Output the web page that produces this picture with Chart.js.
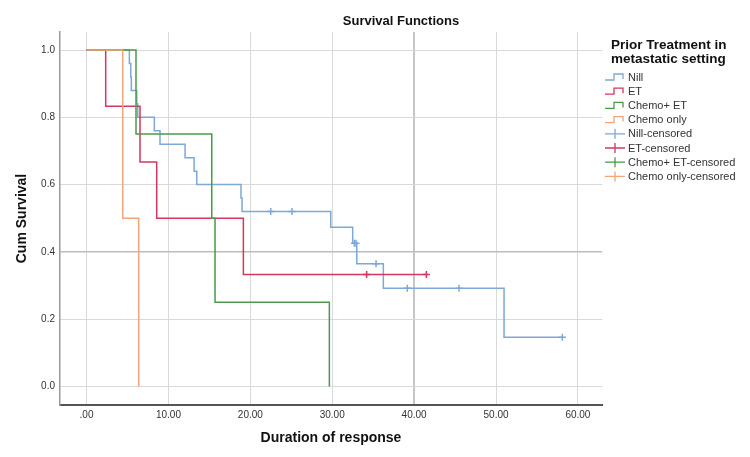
<!DOCTYPE html>
<html><head><meta charset="utf-8">
<script src="https://cdn.jsdelivr.net/npm/chart.js@4.4.0/dist/chart.umd.min.js"></script>
<style>html,body{margin:0;padding:0;background:#fff}#wrap{width:750px;height:457px;position:relative}</style>
</head><body><div id="wrap"><canvas id="c" width="750" height="457"></canvas></div>
<script>
// ---- data ----
const groupNames = ['Nill', 'ET', 'Chemo+ ET', 'Chemo only'];
const censorNames = ['Nill-censored', 'ET-censored', 'Chemo+ ET-censored', 'Chemo only-censored'];
const groupColors = ['#7ea8d8', '#d2385f', '#4a9a4a', '#f2a47a'];

const nillTimes = [0, 5.23, 5.40, 5.47, 6.13, 6.25, 8.28, 8.97, 12.03, 13.13, 13.46, 18.86, 18.99, 29.82, 32.50, 33.00, 36.24, 50.98, 58.1];
const nillSurv  = [1, 0.96, 0.92, 0.88, 0.84, 0.80, 0.76, 0.72, 0.68, 0.64, 0.60, 0.56, 0.52, 0.473, 0.426, 0.365, 0.292, 0.146, 0.146];
const nillCensorTimes = [22.49, 25.09, 32.7, 32.9, 35.35, 39.17, 45.48, 58.1];
const nillCensorSurv  = [0.52, 0.52, 0.426, 0.426, 0.365, 0.292, 0.292, 0.146];

const etTimes = [0, 2.34, 6.53, 8.57, 19.15, 41.5];
const etSurv  = [1, 0.833, 0.667, 0.5, 0.333, 0.333];
const etCensorTimes = [34.2, 41.5];
const etCensorSurv  = [0.333, 0.333];

const chemoEtTimes = [0, 6.04, 15.29, 15.69, 29.65];
const chemoEtSurv  = [1, 0.75, 0.5, 0.25, 0];
const chemoEtCensorTimes = [];
const chemoEtCensorSurv  = [];

const chemoTimes = [0, 4.42, 6.37];
const chemoSurv  = [1, 0.5, 0];
const chemoCensorTimes = [];
const chemoCensorSurv  = [];

const xTicks = [0, 10, 20, 30, 40, 50, 60];
const yTicks = [0, 0.2, 0.4, 0.6, 0.8, 1.0];

// ---- build datasets ----
const pts = (t, s) => t.map((v, i) => ({x: v, y: s[i]}));
const curves = [pts(nillTimes, nillSurv), pts(etTimes, etSurv), pts(chemoEtTimes, chemoEtSurv), pts(chemoTimes, chemoSurv)];
const censors = [pts(nillCensorTimes, nillCensorSurv), pts(etCensorTimes, etCensorSurv), pts(chemoEtCensorTimes, chemoEtCensorSurv), pts(chemoCensorTimes, chemoCensorSurv)];

const datasets = [];
curves.forEach((d, i) => datasets.push({
  label: groupNames[i], data: d, stepped: true, borderColor: groupColors[i], borderWidth: 1.5,
  pointRadius: 0, fill: false, tension: 0, order: 10 - i
}));
censors.forEach((d, i) => datasets.push({
  label: censorNames[i], data: d, showLine: false, pointStyle: 'cross', pointRadius: 3.5,
  borderColor: groupColors[i], borderWidth: 1.5, pointBorderWidth: 1.5, order: 0
}));

const FONT = '"Liberation Sans", Arial, sans-serif';

const decor = {
  id: 'decor',
  afterDraw(chart) {
    const ctx = chart.ctx;
    ctx.save();
    ctx.fillStyle = '#111';
    ctx.textBaseline = 'middle';
    ctx.textAlign = 'center';
    ctx.font = 'bold 13px ' + FONT;
    ctx.fillText('Survival Functions', 401, 21);
    // legend
    ctx.textAlign = 'left';
    ctx.font = 'bold 13.5px ' + FONT;
    ctx.fillText('Prior Treatment in', 611, 45);
    ctx.fillText('metastatic setting', 611, 59);
    ctx.font = '11px ' + FONT;
    const labels = groupNames.concat(censorNames);
    labels.forEach((lab, i) => {
      const y = 77 + i * 14.2;
      const col = groupColors[i % 4];
      ctx.strokeStyle = col;
      ctx.lineWidth = 1.3;
      ctx.beginPath();
      if (i < 4) {
        ctx.moveTo(605, y + 3); ctx.lineTo(614, y + 3); ctx.lineTo(614, y - 3);
        ctx.lineTo(623, y - 3); ctx.lineTo(623, y + 2);
      } else {
        ctx.moveTo(605, y); ctx.lineTo(625, y);
        ctx.moveTo(615, y - 5); ctx.lineTo(615, y + 5);
      }
      ctx.stroke();
      ctx.fillStyle = '#333';
      ctx.fillText(lab, 628, y + 0.5);
    });
    ctx.restore();
  }
};

new Chart(document.getElementById('c'), {
  type: 'line',
  data: {datasets},
  options: {
    responsive: false, animation: false, devicePixelRatio: 1, events: [],
    layout: {padding: {left: 0, top: 32, right: 148, bottom: 0}},
    plugins: {legend: {display: false}, tooltip: {enabled: false}, title: {display: false}},
    scales: {
      x: {
        type: 'linear', min: -3.24, max: 62.94,
        afterBuildTicks: s => { s.ticks = xTicks.map(v => ({value: v})); },
        afterFit: s => { s.height = 52; },
        ticks: {callback: v => v === 0 ? '.00' : Number(v).toFixed(2), font: {size: 10, family: FONT}, color: '#333', padding: 4, maxRotation: 0, autoSkip: false},
        grid: {drawTicks: false, color: c => (c.tick && c.tick.value === 40) ? '#c6c6c6' : '#d9d9d9', lineWidth: c => (c.tick && c.tick.value === 40) ? 2 : 1},
        border: {color: '#555', width: 2},
        title: {display: true, text: 'Duration of response', color: '#111', font: {size: 14, weight: 'bold', family: FONT}, padding: {top: 0, bottom: 10}}
      },
      y: {
        type: 'linear', min: -0.055, max: 1.0535,
        afterBuildTicks: s => { s.ticks = yTicks.map(v => ({value: v})); },
        afterFit: s => { s.width = 60; },
        ticks: {callback: v => Number(v).toFixed(1), font: {size: 10, family: FONT}, color: '#333', padding: 5},
        grid: {drawTicks: false, color: c => (c.tick && c.tick.value === 0.4) ? '#bdbdbd' : '#d9d9d9', lineWidth: c => (c.tick && c.tick.value === 0.4) ? 1.5 : 1},
        border: {color: '#999', width: 1.5},
        title: {display: true, text: 'Cum Survival', color: '#111', font: {size: 14, weight: 'bold', family: FONT}, padding: {top: 14, bottom: 0}}
      }
    }
  },
  plugins: [decor]
});
</script></body></html>
